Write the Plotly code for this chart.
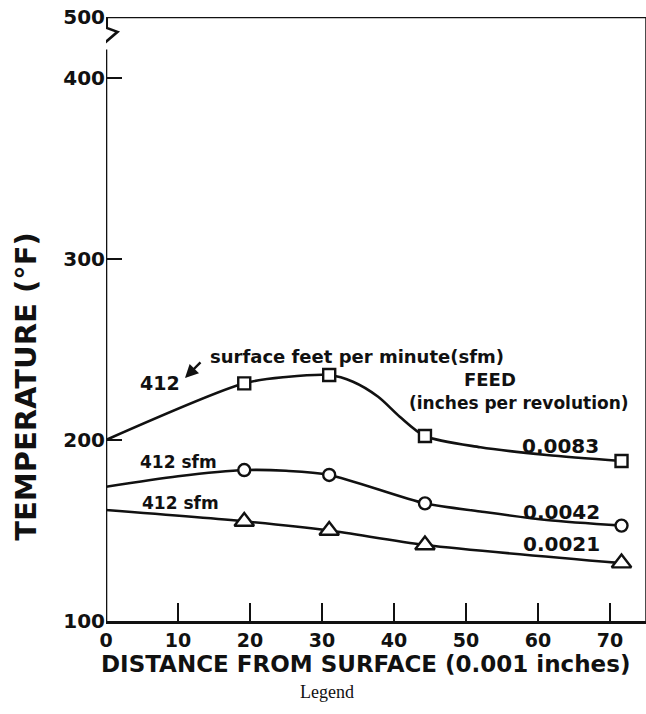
import plotly.graph_objects as go

# ---- data ----
x_markers = [19.2, 31.0, 44.3, 71.6]
feed_0083 = [231.3, 235.9, 202.2, 188.4]
feed_0042 = [183.4, 180.7, 165.0, 152.7]
feed_0021 = [155.0, 150.0, 142.0, 132.0]

curve_0083_x = [0, 19.2, 25, 31, 34.3, 37.8, 40.8, 44.3, 52, 61.2, 71.6]
curve_0083_y = [200, 231.3, 234.8, 235.9, 232.2, 223.9, 212.9, 202.2, 196, 191.7, 188.4]
curve_0042_x = [0, 10, 19.4, 25, 31, 44.3, 52, 61.2, 71.7]
curve_0042_y = [174.2, 180.0, 183.4, 183.0, 180.7, 165.0, 160.5, 155.8, 152.7]
curve_0021_x = [0, 19.4, 31, 44.4, 71.6]
curve_0021_y = [161.3, 155.0, 150.0, 142.0, 132.0]

y_ticks = [100, 200, 300, 400]
y_tick_labels = ["100", "200", "300", "400"]
x_ticks = [0, 10, 20, 30, 40, 50, 60, 70]

# broken axis: 400 -> 500 drawn compressed
BREAK_TOP = 433.7
X_MAX = 75

FONT = "DejaVu Sans"
BLACK = "#111111"

fig = go.Figure()

for cx, cy in [(curve_0083_x, curve_0083_y), (curve_0042_x, curve_0042_y), (curve_0021_x, curve_0021_y)]:
    fig.add_trace(go.Scatter(x=cx, y=cy, mode="lines",
                             line=dict(color=BLACK, width=2.6, shape="spline", smoothing=0.8),
                             showlegend=False, hoverinfo="skip"))

for ys, sym, size in [(feed_0083, "square", 12), (feed_0042, "circle", 12), (feed_0021, "triangle-up", 17)]:
    fig.add_trace(go.Scatter(x=x_markers, y=ys, mode="markers",
                             marker=dict(symbol=sym, size=size, color="white",
                                         line=dict(color=BLACK, width=2.4)),
                             showlegend=False))

# axes frame (left axis with a break)
shapes = [
    dict(type="line", xref="x", yref="y", x0=0, x1=0, y0=100, y1=BREAK_TOP - 18, line=dict(color=BLACK, width=2.6)),
    dict(type="line", xref="x", yref="y", x0=X_MAX, x1=X_MAX, y0=100, y1=BREAK_TOP, line=dict(color=BLACK, width=1.5)),
    dict(type="line", xref="x", yref="y", x0=0, x1=X_MAX, y0=BREAK_TOP, y1=BREAK_TOP, line=dict(color=BLACK, width=2.6)),
    dict(type="path", xref="x", yref="y",
         path=f"M 0 {BREAK_TOP-18} L -1.4 {BREAK_TOP-18.5} L 1.6 {BREAK_TOP-8.2} L 0.1 {BREAK_TOP-6.0} L 0.1 {BREAK_TOP}",
         line=dict(color=BLACK, width=2.6)),
]

ann = []
def txt(x, y, s, size=17, **kw):
    ann.append(dict(x=x, y=y, xref="x", yref="y", text=s, showarrow=False,
                    font=dict(family=FONT, size=size, color=BLACK, weight="bold"), **kw))

txt(7.5, 231.5, "412", 19)
txt(34.9, 245.9, "surface feet per minute(sfm)", 18)
txt(53.3, 233.4, "FEED", 18)
txt(57.3, 220.2, "(inches per revolution)", 17)
txt(63.1, 196.7, "0.0083", 20)
txt(63.2, 160.2, "0.0042", 20)
txt(63.2, 142.5, "0.0021", 20)
txt(10.0, 187.8, "412 sfm", 17)
txt(10.3, 165.2, "412 sfm", 17)

ann.append(dict(x=10.97, y=234.3, xref="x", yref="y", text="", showarrow=True,
                ax=17, ay=-17, arrowhead=2, arrowsize=1.1, arrowwidth=2.4, arrowcolor=BLACK))

ann.append(dict(x=-0.148, y=0.388, xref="paper", yref="paper", text="TEMPERATURE (°F)",
                textangle=-90, showarrow=False, xanchor="center", yanchor="middle",
                font=dict(family=FONT, size=29, color=BLACK, weight="bold")))
ann.append(dict(x=0.48, y=-0.071, xref="paper", yref="paper",
                text="DISTANCE FROM SURFACE (0.001 inches)", showarrow=False,
                xanchor="center", yanchor="middle",
                font=dict(family=FONT, size=23, color=BLACK, weight="bold")))
ann.append(dict(x=0.41, y=-0.118, xref="paper", yref="paper", text="Legend", showarrow=False,
                xanchor="center", yanchor="middle",
                font=dict(family="Liberation Serif", size=18, color=BLACK)))

fig.update_layout(
    width=646, height=714,
    margin=dict(l=106, r=0, t=17, b=93),
    paper_bgcolor="white", plot_bgcolor="white",
    shapes=shapes, annotations=ann,
    xaxis=dict(range=[0, X_MAX], tickvals=x_ticks, ticks="inside", ticklen=18, tickwidth=2.4,
               tickcolor=BLACK, showgrid=False, zeroline=False, showline=True, linewidth=2.6,
               linecolor=BLACK, tickfont=dict(family=FONT, size=19, color=BLACK, weight="bold")),
    yaxis=dict(range=[100, BREAK_TOP], tickvals=y_ticks + [BREAK_TOP - 0.01],
               ticktext=y_tick_labels + ["500"], ticks="inside", ticklen=16, tickwidth=2.4,
               tickcolor=BLACK, showgrid=False, zeroline=False, showline=False,
               tickfont=dict(family=FONT, size=20, color=BLACK, weight="bold")),
)

fig.write_html("out.html")
